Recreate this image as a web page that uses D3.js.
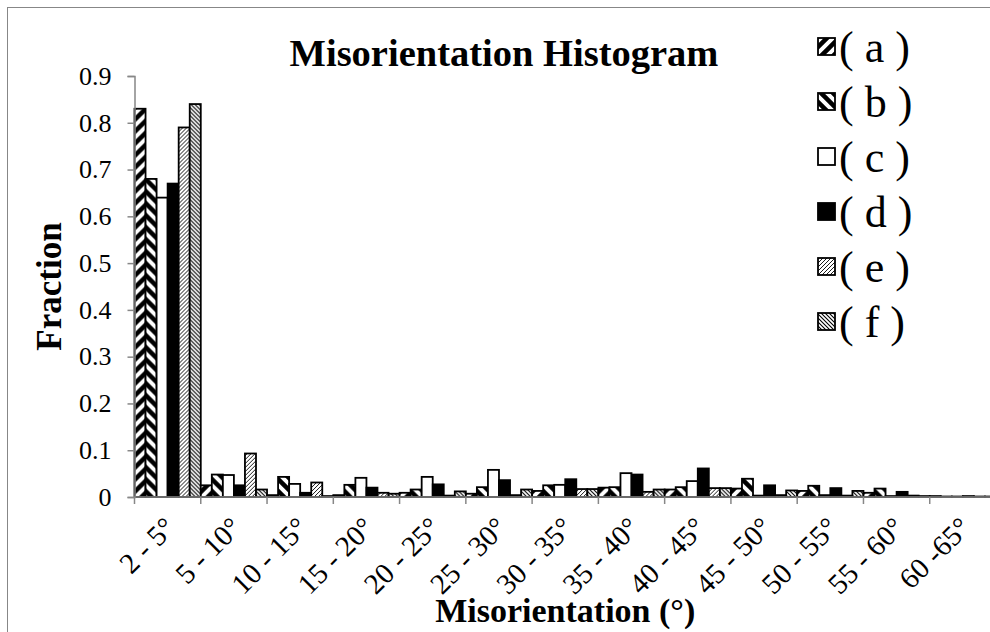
<!DOCTYPE html>
<html lang="en">
<head>
  <meta charset="UTF-8">
  <script src="https://d3js.org/d3.v7.min.js"></script>
  <title>Misorientation Histogram</title>
  <style>
    body { margin: 0; background: #fff; }
    text { font-family: "Liberation Serif", "Times New Roman", serif; fill: #000; }
  </style>
</head>
<body>
  <div id="chart"></div>
  <script>
    // bins of the histogram
    const categories = ['2 - 5°', '5 - 10°', '10 - 15°', '15 - 20°', '20 - 25°', '25 - 30°',
      '30 - 35°', '35 - 40°', '40 - 45°', '45 - 50°', '50 - 55°', '55 - 60°', '60 -65°'];

    const seriesNames = ['( a )', '( b )', '( c )', '( d )', '( e )', '( f )'];

    // fraction per bin
    const valuesA = [0.83, 0.025, 0.004, 0.004, 0.009, 0.007, 0.013, 0.020, 0.016, 0.018, 0.013, 0.009, 0.002];
    const valuesB = [0.68, 0.048, 0.043, 0.026, 0.016, 0.021, 0.025, 0.021, 0.021, 0.039, 0.024, 0.018, 0.001];
    const valuesC = [0.64, 0.047, 0.028, 0.041, 0.043, 0.058, 0.026, 0.051, 0.034, 0.003, 0.004, 0.002, 0.001];
    const valuesD = [0.67, 0.025, 0.009, 0.020, 0.027, 0.036, 0.038, 0.048, 0.061, 0.025, 0.019, 0.011, 0.002];
    const valuesE = [0.79, 0.093, 0.031, 0.009, 0.003, 0.004, 0.017, 0.011, 0.019, 0.004, 0.003, 0.003, 0.001];
    const valuesF = [0.84, 0.016, 0.002, 0.007, 0.012, 0.016, 0.017, 0.016, 0.019, 0.014, 0.013, 0.002, 0.001];

    const yTicks = [0, 0.1, 0.2, 0.3, 0.4, 0.5, 0.6, 0.7, 0.8, 0.9];

    const allValues = [valuesA, valuesB, valuesC, valuesD, valuesE, valuesF];
    const fills = ['url(#pa)', 'url(#pb)', '#fff', '#000', 'url(#pe)', 'url(#pf)'];

    const width = 990, height = 632;
    const plot = { left: 134.5, right: 996, top: 76, bottom: 497 };
    const axisGray = '#878787';

    const svg = d3.select('#chart').append('svg')
      .attr('width', width)
      .attr('height', height);

    // hatch patterns like the old office fills
    const defs = svg.append('defs');
    const addPattern = (id, size, d, sw) => {
      const p = defs.append('pattern')
        .attr('id', id)
        .attr('patternUnits', 'userSpaceOnUse')
        .attr('width', size)
        .attr('height', size);
      p.append('rect').attr('width', size).attr('height', size).attr('fill', '#fff');
      p.append('path').attr('d', d).attr('stroke', '#000').attr('stroke-width', sw).attr('fill', 'none');
    };
    const s1 = 12, h1 = s1 / 4;
    addPattern('pa', s1, `M${-h1},${h1} l${2 * h1},${-2 * h1} M0,${s1} L${s1},0 M${s1 - h1},${s1 + h1} l${2 * h1},${-2 * h1}`, 4.5);
    addPattern('pb', s1, `M${-h1},${s1 - h1} l${2 * h1},${2 * h1} M0,0 L${s1},${s1} M${s1 - h1},${-h1} l${2 * h1},${2 * h1}`, 4.5);
    const s2 = 4;
    addPattern('pe', s2, `M-1,1 l2,-2 M0,${s2} L${s2},0 M${s2 - 1},${s2 + 1} l2,-2`, 0.9);
    addPattern('pf', s2, `M-1,${s2 - 1} l2,2 M0,0 L${s2},${s2} M${s2 - 1},-1 l2,2`, 1.1);

    // chart border
    svg.append('rect')
      .attr('x', 7.5).attr('y', 7.5)
      .attr('width', 1000).attr('height', 700)
      .attr('fill', 'none')
      .attr('stroke', axisGray)
      .attr('stroke-width', 1);

    const x0 = d3.scaleBand()
      .domain(categories)
      .range([plot.left, plot.right])
      .padding(0);

    const x1 = d3.scaleBand()
      .domain(d3.range(seriesNames.length))
      .range([0, x0.bandwidth()])
      .padding(0);

    const y = d3.scaleLinear()
      .domain([0, 0.9])
      .range([plot.bottom, plot.top]);

    // bars
    const groups = svg.append('g').selectAll('g')
      .data(categories)
      .enter()
      .append('g')
      .attr('transform', (c) => `translate(${x0(c)},0)`);

    groups.selectAll('rect')
      .data((c, ci) => allValues.map((vals, si) => ({ si, v: vals[ci] })))
      .enter()
      .append('rect')
      .attr('x', (d) => x1(d.si))
      .attr('y', (d) => y(d.v))
      .attr('width', x1.bandwidth())
      .attr('height', (d) => y(0) - y(d.v))
      .attr('fill', (d) => fills[d.si])
      .attr('stroke', '#000')
      .attr('stroke-width', 1.8);

    // y axis
    const yAxis = svg.append('g')
      .attr('transform', `translate(${plot.left},0)`)
      .call(d3.axisLeft(y).tickValues(yTicks).tickSize(7).tickPadding(16)
        .tickFormat((d) => d === 0 ? '0' : d3.format('.1f')(d)));
    yAxis.select('.domain').attr('stroke', axisGray).attr('stroke-width', 1.5);
    yAxis.selectAll('.tick line').attr('stroke', axisGray).attr('stroke-width', 1.5);
    yAxis.selectAll('.tick text')
      .style('font-family', '"Liberation Serif", serif')
      .style('font-size', '26px')
      .attr('fill', '#000');

    // x axis, ticks sit between the bins
    const xAxis = svg.append('g')
      .attr('transform', `translate(0,${plot.bottom})`);
    xAxis.append('line')
      .attr('x1', plot.left).attr('x2', plot.right)
      .attr('stroke', axisGray).attr('stroke-width', 1.5);
    xAxis.selectAll('line.tk')
      .data(categories)
      .enter()
      .append('line')
      .attr('class', 'tk')
      .attr('x1', (c) => x0(c)).attr('x2', (c) => x0(c))
      .attr('y1', 0).attr('y2', 7)
      .attr('stroke', axisGray).attr('stroke-width', 1.5);
    xAxis.selectAll('text')
      .data(categories)
      .enter()
      .append('text')
      .attr('transform', (c) => `translate(${x0(c) + x0.bandwidth() / 2 - 5},${18}) rotate(-45)`)
      .attr('text-anchor', 'end')
      .attr('dy', '0.7em')
      .style('font-size', '29px')
      .text((c) => c);

    // titles
    svg.append('text')
      .attr('x', 504).attr('y', 66)
      .attr('text-anchor', 'middle')
      .style('font-size', '38.5px')
      .style('font-weight', 'bold')
      .text('Misorientation Histogram');

    svg.append('text')
      .attr('x', (plot.left + plot.right) / 2).attr('y', 622)
      .attr('text-anchor', 'middle')
      .style('font-size', '34px')
      .style('font-weight', 'bold')
      .text('Misorientation (°)');

    svg.append('text')
      .attr('transform', `translate(61,${(plot.top + plot.bottom) / 2}) rotate(-90)`)
      .attr('text-anchor', 'middle')
      .style('font-size', '35px')
      .style('font-weight', 'bold')
      .text('Fraction');

    // legend
    const legend = svg.append('g').selectAll('g')
      .data(seriesNames)
      .enter()
      .append('g')
      .attr('transform', (d, i) => `translate(818,${47 + i * 55})`);
    legend.append('rect')
      .attr('x', 0).attr('y', -9)
      .attr('width', 17).attr('height', 17)
      .attr('fill', (d, i) => fills[i])
      .attr('stroke', '#000')
      .attr('stroke-width', 1.8);
    legend.append('text')
      .attr('x', 21).attr('y', 0)
      .attr('dy', '0.35em')
      .style('font-size', '44px')
      .text((d) => d);
  </script>
</body>
</html>
